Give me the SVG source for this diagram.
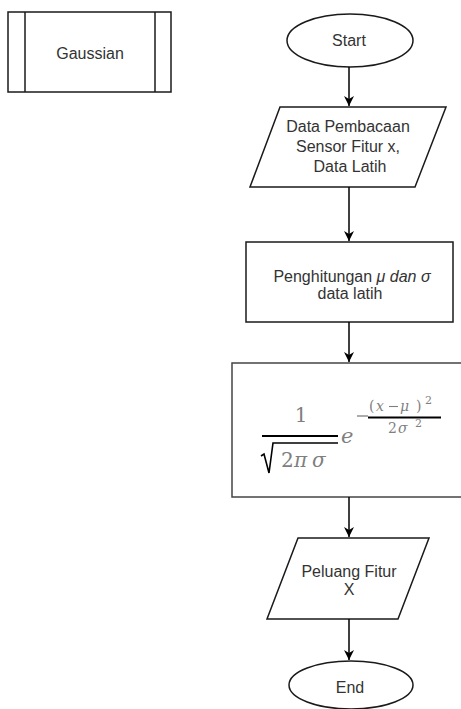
<svg xmlns="http://www.w3.org/2000/svg" width="461" height="709" viewBox="0 0 461 709">
<defs>
<style>
.s{fill:#fff;stroke:#1a1a1a;stroke-width:1.5}
.t{font-family:"Liberation Sans",Arial,sans-serif;font-size:16px;fill:#333;text-anchor:middle}
.c{stroke:#000;stroke-width:1.5;fill:none}
.m{font-family:"DejaVu Serif","Liberation Serif",serif;fill:#7f7f7f}
.i{font-style:italic}
.bar{stroke:#000;stroke-width:2}
</style>
<marker id="ah" viewBox="0 0 10 10" refX="10" refY="5" markerWidth="10" markerHeight="10" markerUnits="userSpaceOnUse" orient="auto">
<path d="M0,0 L10,5 L0,10 L3,5 z" fill="#000"/>
</marker>
</defs>
<rect width="461" height="709" fill="#fff"/>

<g id="gaussian">
<rect class="s" x="8" y="12" width="163" height="80"/>
<line class="s" x1="25" y1="12" x2="25" y2="92"/>
<line class="s" x1="155" y1="12" x2="155" y2="92"/>
<text class="t" x="90" y="59">Gaussian</text>
</g>

<g id="start">
<ellipse class="s" cx="350" cy="40.5" rx="63" ry="26.5"/>
<text class="t" x="349" y="46">Start</text>
</g>

<g id="input">
<polygon class="s" points="280,107 446,107 415,187 250,187"/>
<text class="t" x="348" y="132">Data Pembacaan</text>
<text class="t" x="348" y="152">Sensor Fitur x,</text>
<text class="t" x="350" y="172">Data Latih</text>
</g>

<g id="hitung">
<rect class="s" x="246" y="242" width="207" height="80"/>
<text class="t" x="352" y="282">Penghitungan <tspan font-style="italic">μ dan σ</tspan></text>
<text class="t" x="350" y="299">data latih</text>
</g>

<g id="rumus">
<rect x="232" y="363" width="240" height="134" fill="#fff" stroke="#444" stroke-width="1.5"/>
<text class="m" x="301" y="422" font-size="20" text-anchor="middle">1</text>
<line class="bar" x1="262" y1="436" x2="338" y2="436"/>
<path d="M261,456 L264,454 L269,473 L273,443 L338,443" fill="none" stroke="#000" stroke-width="1.6"/>
<text class="m" x="281" y="467" font-size="20">2</text>
<text class="m i" x="294" y="467" font-size="20">π</text>
<text class="m i" x="312" y="467" font-size="20">σ</text>
<text class="m i" x="341" y="443" font-size="21">e</text>
<line x1="357" y1="416" x2="368" y2="416" stroke="#7f7f7f" stroke-width="1.3"/>
<text class="m" x="369" y="411" font-size="14">(</text>
<text class="m i" x="376" y="411" font-size="14">x</text>
<line x1="389" y1="406.5" x2="398" y2="406.5" stroke="#7f7f7f" stroke-width="1.1"/>
<text class="m i" x="400" y="411" font-size="14">μ</text>
<text class="m" x="416" y="411" font-size="14">)</text>
<text class="m" x="425" y="404" font-size="11">2</text>
<line class="bar" x1="368" y1="417.5" x2="441" y2="417.5"/>
<text class="m" x="388" y="433" font-size="14">2</text>
<text class="m i" x="398" y="433" font-size="14">σ</text>
<text class="m" x="415" y="427" font-size="11">2</text>
</g>

<g id="output">
<polygon class="s" points="298,538 429,538 398,619 267,619"/>
<text class="t" x="349" y="577">Peluang Fitur</text>
<text class="t" x="349" y="595">X</text>
</g>

<g id="end">
<ellipse class="s" cx="351" cy="685" rx="62" ry="24"/>
<text class="t" x="350" y="693">End</text>
</g>

<g id="connectors">
<line class="c" x1="349" y1="67" x2="349" y2="106" marker-end="url(#ah)"/>
<line class="c" x1="349" y1="187" x2="349" y2="241" marker-end="url(#ah)"/>
<line class="c" x1="349" y1="322" x2="349" y2="362" marker-end="url(#ah)"/>
<line class="c" x1="349" y1="497" x2="349" y2="537" marker-end="url(#ah)"/>
<line class="c" x1="349" y1="619" x2="349" y2="660" marker-end="url(#ah)"/>
</g>
</svg>
